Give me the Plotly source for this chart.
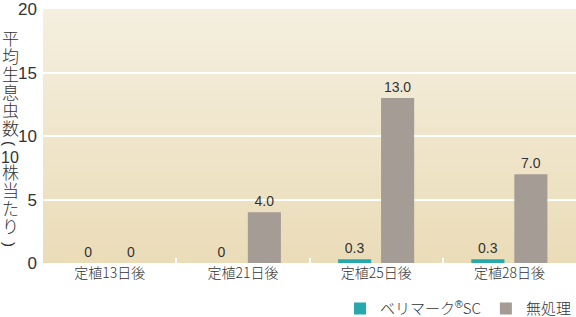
import base64
import plotly.graph_objects as go

# ---- data ----
categories = ["定植13日後", "定植21日後", "定植25日後", "定植28日後"]
beri_values = [0, 0, 0.3, 0.3]
mushori_values = [0, 4.0, 13.0, 7.0]
beri_labels = ["0", "0", "0.3", "0.3"]
mushori_labels = ["0", "4.0", "13.0", "7.0"]
series_names = ['ベリマーク<sup><span style="font-family:Liberation Sans">®</span></sup>SC', "無処理"]
y_ticks = [0, 5, 10, 15, 20]
y_range = [0, 20.02]
title_part1 = "平均生息虫数"
title_num = "10"
title_part2 = "株当たり"

# ---- style ----
W, H = 576, 317
ML, MR, MT, MB = 43, 0, 9, 54
PW, PH = W - ML - MR, H - MT - MB
FONT = "Liberation Sans, Arial, Noto Sans CJK JP, sans-serif"
JFONT = "Noto Sans CJK JP, Liberation Sans, sans-serif"
TXT = "#333333"
TEAL = "#27a8ad"
GRAY = "#a59c95"

fig = go.Figure()
fig.add_trace(go.Bar(
    x=categories, y=beri_values, name=series_names[0],
    marker=dict(color=TEAL, line=dict(width=0)),
    text=beri_labels, textposition="outside", cliponaxis=False,
    textfont=dict(size=14, color=TXT, family=FONT),
))
fig.add_trace(go.Bar(
    x=categories, y=mushori_values, name=series_names[1],
    marker=dict(color=GRAY, line=dict(width=0)),
    text=mushori_labels, textposition="outside", cliponaxis=False,
    textfont=dict(size=14, color=TXT, family=FONT),
))

# background gradient of the plot area
svg = ('<svg xmlns="http://www.w3.org/2000/svg" width="100" height="100" '
       'preserveAspectRatio="none"><defs><linearGradient id="g" x1="0" y1="0" '
       'x2="0" y2="1"><stop offset="0" stop-color="#f4efdf"/>'
       '<stop offset="1" stop-color="#ebdcb8"/></linearGradient></defs>'
       '<rect width="100" height="100" fill="url(#g)"/></svg>')
src = "data:image/svg+xml;base64," + base64.b64encode(svg.encode()).decode()


def px_y(ypix):
    return (H - MB - ypix) / PH


TX = (10 - ML) / PW
PITCH = 18.0
GLYPH = 17


def vstack(chars):
    return "<br>".join(f'<span style="font-size:{GLYPH}px">{c}</span>' for c in chars)


annotations = [
    dict(text=vstack(title_part1), x=TX, y=px_y(82),
         font=dict(size=PITCH / 1.3, color=TXT, family=JFONT, weight=300)),
    dict(text="(", textangle=90, x=TX, y=px_y(143), font=dict(size=15, color=TXT, family=FONT)),
    dict(text=title_num, x=TX, y=px_y(157), font=dict(size=16, color=TXT, family=FONT)),
    dict(text=vstack(title_part2), x=TX, y=px_y(198),
         font=dict(size=PITCH / 1.3, color=TXT, family=JFONT, weight=300)),
    dict(text=")", textangle=90, x=TX, y=px_y(244), font=dict(size=15, color=TXT, family=FONT)),
]
for a in annotations:
    a.update(showarrow=False, xref="paper", yref="paper", xanchor="center", yanchor="middle", borderpad=0)

fig.update_layout(
    width=W, height=H,
    margin=dict(l=ML, r=MR, t=MT, b=MB, autoexpand=False),
    paper_bgcolor="white",
    plot_bgcolor="rgba(0,0,0,0)",
    barmode="group", bargap=0.355, bargroupgap=0.23,
    font=dict(family=FONT, color=TXT),
    images=[dict(source=src, xref="paper", yref="paper", x=0, y=1,
                 sizex=1, sizey=1, sizing="stretch", layer="below",
                 xanchor="left", yanchor="top")],
    annotations=annotations,
    showlegend=True,
    legend=dict(orientation="h", x=1, xanchor="right", y=-0.18, yanchor="middle",
                font=dict(size=15, color=TXT, family=JFONT, weight=300),
                bgcolor="rgba(0,0,0,0)", itemwidth=30, tracegroupgap=10),
)
fig.update_xaxes(
    type="category", showgrid=False, zeroline=False, showline=False,
    ticks="inside", tickson="boundaries", ticklen=5, tickwidth=2, tickcolor="white",
    tickfont=dict(size=14, color=TXT, family=JFONT, weight=300),
)
fig.update_yaxes(
    range=y_range, tickvals=y_ticks, showgrid=True, gridcolor="white", gridwidth=2,
    zeroline=False, showline=False, ticks="", ticklabelstandoff=5,
    tickfont=dict(size=17, color=TXT, family=FONT),
)

fig.write_html("out.html")
